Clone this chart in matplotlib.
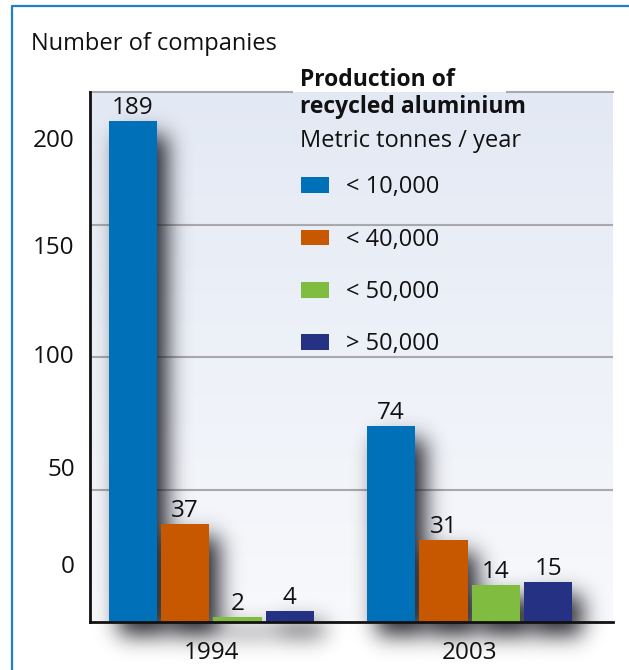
import numpy as np
import matplotlib
matplotlib.use('Agg')
from matplotlib import pyplot as plt
from matplotlib.patches import Patch
from matplotlib.lines import Line2D

plt.rcParams['font.family'] = ['Open Sans', 'DejaVu Sans']

# Данные
years = ['1994', '2003']
categories = ['< 10,000', '< 40,000', '< 50,000', '> 50,000']
values_1994 = [189, 37, 2, 4]
values_2003 = [74, 31, 14, 15]
colors = ['#0070b9', '#c85800', '#80bc3f', '#253284']
grid_values = [50, 100, 150, 200]
# подписи оси смещены относительно сетки, как в оригинале
ytick_pos = [21.9, 58.5, 101.1, 142.3, 182.6]
ytick_labels = ['0', '50', '100', '150', '200']

W, H = 629, 670
fig = plt.figure(figsize=(W / 100, H / 100), dpi=100)
ax = fig.add_axes([90 / W, 48 / H, (613 - 90) / W, (622 - 92) / H])

group_x = [0, 4.94]
offsets = [-1.5, -0.5, 0.5, 1.5]
bar_w = 0.92
xlim = (-2.32, 7.68)
ylim = (0, 200)
ax.set_xlim(*xlim)
ax.set_ylim(*ylim)

# фон с градиентом
grad = np.linspace(0, 1, 256).reshape(-1, 1)
top_c = np.array([0.890, 0.914, 0.957])
bot_c = np.array([0.973, 0.976, 0.988])
bg = bot_c + (top_c - bot_c) * grad
ax.imshow(bg.reshape(256, 1, 3), extent=[0, 1, 0, 1], transform=ax.transAxes,
          origin='lower', aspect='auto', zorder=0)

# сетка
for g in grid_values[:-1]:
    ax.axhline(g, color='#a9a9ab', lw=1.5, zorder=1)
ax.axhline(200, xmax=(292 - 90) / (613 - 90), color='#a9a9ab', lw=1.5, zorder=1, clip_on=False)
ax.axhline(200, xmin=(507 - 90) / (613 - 90), color='#a9a9ab', lw=1.5, zorder=1, clip_on=False)

# тени под столбиками (размытая маска)
px_x = (613 - 90) / (xlim[1] - xlim[0])
px_y = (622 - 92) / (ylim[1] - ylim[0])
sx0, sx1 = xlim[0], xlim[1]
sy0, sy1 = -45 / px_y, 200
nx = int((sx1 - sx0) * px_x)
ny = int((sy1 - sy0) * px_y)
xs = np.linspace(sx0, sx1, nx)
ys = np.linspace(sy0, sy1, ny)
XX, YY = np.meshgrid(xs, ys)
mask = np.zeros_like(XX)
dx, dy = 10 / px_x, 13 / px_y
for gx, vals in zip(group_x, [values_1994, values_2003]):
    for off, v in zip(offsets, vals):
        x0 = gx + off - bar_w / 2 + dx
        inside = (XX >= x0) & (XX <= x0 + bar_w) & (YY >= -dy) & (YY <= v - dy)
        mask[inside] = 1.0

sigma = 11
k = np.arange(-3 * sigma, 3 * sigma + 1)
kern = np.exp(-k ** 2 / (2 * sigma ** 2))
kern /= kern.sum()
blur = np.apply_along_axis(lambda r: np.convolve(r, kern, mode='same'), 1, mask)
blur = np.apply_along_axis(lambda c: np.convolve(c, kern, mode='same'), 0, blur)
shadow = np.zeros((ny, nx, 4))
shadow[..., 0:3] = [0.10, 0.10, 0.13]
shadow[..., 3] = np.clip(blur * 0.95, 0, 1)
ax.imshow(shadow, extent=[sx0, sx1, sy0, sy1], origin='lower', aspect='auto',
          zorder=2, clip_on=False, interpolation='bilinear')

# столбики
for gx, vals in zip(group_x, [values_1994, values_2003]):
    xs_bar = [gx + o for o in offsets]
    ax.bar(xs_bar, vals, width=bar_w, color=colors, zorder=3)
    for x, v in zip(xs_bar, vals):
        ax.annotate(str(v), (x, v), xytext=(0, 5), textcoords='offset points',
                    ha='center', va='baseline', fontsize=17.5, color='#111111', zorder=4)

# оси
for s in ['top', 'right']:
    ax.spines[s].set_visible(False)
for s in ['left', 'bottom']:
    ax.spines[s].set_linewidth(2)
    ax.spines[s].set_color('#111111')
    ax.spines[s].set_zorder(5)
ax.set_yticks(ytick_pos, ytick_labels)
ax.set_xticks(group_x, years)
ax.tick_params(axis='both', length=0, labelsize=17.5, colors='#111111')
ax.tick_params(axis='y', pad=11)
ax.tick_params(axis='x', pad=14)

fig.text(31 / W, 1 - 44 / H, 'Number of companies', fontsize=17, va='center', ha='left', color='#111111')

# легенда
fig.text(300 / W, 1 - 80 / H, 'Production of', fontsize=16.5, fontweight='bold', va='center', color='#111111')
fig.text(300 / W, 1 - 107 / H, 'recycled aluminium', fontsize=16.5, fontweight='bold', va='center', color='#111111')
fig.text(300 / W, 1 - 141 / H, 'Metric tonnes / year', fontsize=17, va='center', color='#111111')
handles = [Patch(facecolor=c, edgecolor='none') for c in colors]
leg = fig.legend(handles, categories, loc='upper left', bbox_to_anchor=(292 / W, 1 - 166 / H),
                 frameon=False, fontsize=17, handlelength=1.15, handleheight=0.65,
                 handletextpad=0.75, labelspacing=1.2, borderaxespad=0)
for t in leg.get_texts():
    t.set_color('#111111')

# синяя рамка
fig.add_artist(Line2D([12 / W, 12 / W, 1], [0, 1 - 6 / H, 1 - 6 / H], color='#1f7ec8', lw=1.6))

plt.savefig('out.png', dpi=100)
